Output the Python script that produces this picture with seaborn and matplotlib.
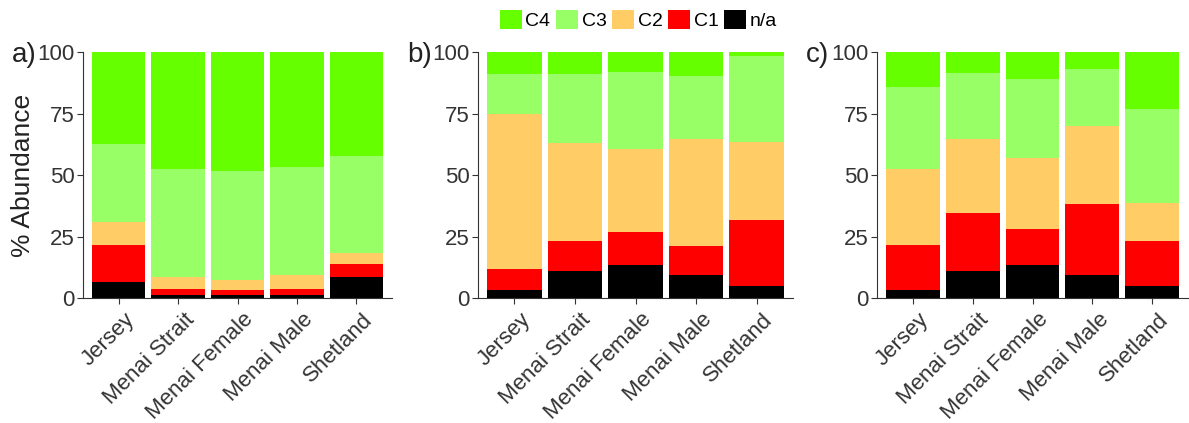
import seaborn as sns
import matplotlib.pyplot as plt
import numpy as np
from matplotlib.patches import Patch
from matplotlib.transforms import ScaledTranslation

sites = ["Jersey", "Menai Strait", "Menai Female", "Menai Male", "Shetland"]
categories = ["n/a", "C1", "C2", "C3", "C4"]
colors = {"n/a": "#000000", "C1": "#FF0000", "C2": "#FFCC66",
          "C3": "#99FF66", "C4": "#66FF00"}

# segment heights (% abundance) per site, order: n/a, C1, C2, C3, C4
panel_a = {
    "n/a": [6.5, 1.1, 1.1, 1.1, 8.4],
    "C1": [15.2, 2.4, 2.0, 2.4, 5.3],
    "C2": [9.2, 4.9, 4.1, 5.7, 4.6],
    "C3": [31.7, 44.2, 44.3, 44.2, 39.4],
    "C4": [37.4, 47.4, 48.5, 46.6, 42.3],
}
panel_b = {
    "n/a": [3.1, 10.8, 13.4, 9.2, 4.9],
    "C1": [8.8, 12.5, 13.4, 11.8, 26.9],
    "C2": [63.0, 39.7, 33.9, 43.8, 31.6],
    "C3": [16.0, 27.9, 31.3, 25.3, 34.8],
    "C4": [9.1, 9.1, 8.0, 9.9, 1.8],
}
panel_c = {
    "n/a": [3.1, 10.8, 13.4, 9.2, 4.9],
    "C1": [18.3, 23.6, 14.8, 29.0, 18.4],
    "C2": [31.0, 30.2, 28.6, 31.6, 15.3],
    "C3": [33.5, 27.0, 32.1, 23.4, 38.4],
    "C4": [14.1, 8.4, 11.1, 6.8, 23.0],
}
panel_labels = ["a)", "b)", "c)"]

plt.rcParams['font.family'] = ['Liberation Sans', 'DejaVu Sans']

fig = plt.figure(figsize=(11.89, 4.23), dpi=100, facecolor='white')
W, H = 1189, 423
left_px = [83, 478, 877]
width_px = [309, 315, 311]

for lp, wp, data, lab in zip(left_px, width_px, [panel_a, panel_b, panel_c], panel_labels):
    ax = fig.add_axes([lp / W, 125 / H, wp / W, 246 / H])
    seg = np.array([data[c] for c in categories])
    cum = np.cumsum(seg, axis=0)
    # draw from the top layer down so smaller stacks sit in front
    for i in range(len(categories) - 1, -1, -1):
        sns.barplot(x=sites, y=cum[i], color=colors[categories[i]],
                    width=0.9, saturation=1, ax=ax, linewidth=0)
    ax.set_ylim(0, 100)
    ax.set_xlim(-0.6, 4.6)
    ax.set_yticks([0, 25, 50, 75, 100])
    ax.tick_params(axis='both', labelsize=16, color='#333333',
                   labelcolor='#333333', length=4, pad=2)
    shift = ScaledTranslation(4 / 72, -2 / 72, fig.dpi_scale_trans)
    for t in ax.get_xticklabels():
        t.set_rotation(45)
        t.set_ha('right')
        t.set_rotation_mode('anchor')
        t.set_transform(t.get_transform() + shift)
    sns.despine(ax=ax)
    ax.spines['left'].set_color('#333333')
    ax.spines['bottom'].set_color('#333333')
    ax.set_xlabel("")
    ax.set_ylabel("")
    fig.text((lp - 71) / W, 1 - 55 / H, lab, fontsize=20,
             ha='left', va='center', color='#222222')

ax0 = fig.axes[0]
ax0.set_ylabel("% Abundance", fontsize=19, color='#222222')
ax0.yaxis.set_label_coords(-0.155, 0.5)

handles = [Patch(facecolor=colors[c], edgecolor='none', label=c)
           for c in ["C4", "C3", "C2", "C1", "n/a"]]
fig.legend(handles=handles, loc='upper center', bbox_to_anchor=(0.537, 1.018),
           ncol=5, frameon=False, fontsize=14, handlelength=1.1,
           handleheight=1.1, handletextpad=0.2, columnspacing=0.3)

plt.savefig("out.png", dpi=100, facecolor='white')
plt.close()
